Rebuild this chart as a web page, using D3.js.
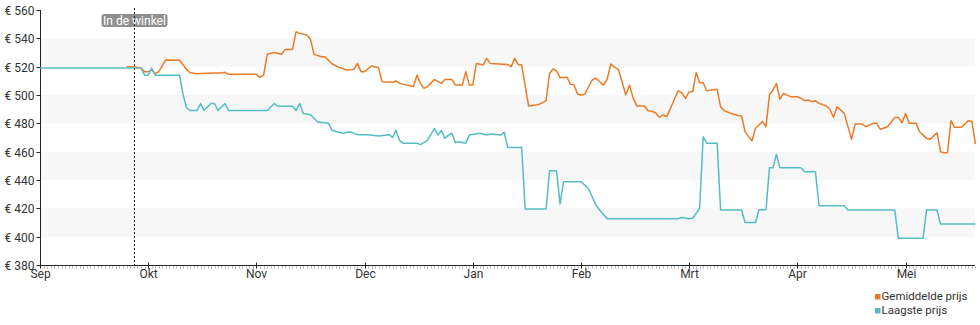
<!DOCTYPE html>
<html>
<head>
<meta charset="utf-8">
<script src="https://cdn.jsdelivr.net/npm/d3@7"></script>
<style>
  html, body { margin: 0; padding: 0; background: #fff; }
  svg { display: block; font-family: Roboto, "Noto Sans", Arial, sans-serif; }
</style>
</head>
<body>
<svg id="chart" width="980" height="325"></svg>
<script>
// ---------- data ----------
const monthLabels = ["Sep", "Okt", "Nov", "Dec", "Jan", "Feb", "Mrt", "Apr", "Mei"];
const yTicks = [380, 400, 420, 440, 460, 480, 500, 520, 540, 560];
const bandStarts = [400, 440, 480, 520];
const seriesNames = ["Gemiddelde prijs", "Laagste prijs"];
const storeDate = "2023-09-27";
const storeLabel = "In de winkel";

const gemDates = ["2023-09-25","2023-09-27","2023-09-29","2023-09-30","2023-10-01","2023-10-02","2023-10-03","2023-10-04","2023-10-06","2023-10-10","2023-10-12","2023-10-13","2023-10-15","2023-10-18","2023-10-20","2023-10-22","2023-10-23","2023-10-24","2023-11-01","2023-11-02","2023-11-03","2023-11-04","2023-11-05","2023-11-06","2023-11-08","2023-11-09","2023-11-11","2023-11-12","2023-11-13","2023-11-15","2023-11-16","2023-11-17","2023-11-19","2023-11-20","2023-11-22","2023-11-24","2023-11-26","2023-11-28","2023-11-29","2023-11-30","2023-12-01","2023-12-03","2023-12-05","2023-12-06","2023-12-09","2023-12-10","2023-12-11","2023-12-14","2023-12-15","2023-12-16","2023-12-17","2023-12-18","2023-12-19","2023-12-21","2023-12-23","2023-12-24","2023-12-26","2023-12-27","2023-12-29","2023-12-30","2023-12-31","2024-01-01","2024-01-02","2024-01-04","2024-01-05","2024-01-06","2024-01-11","2024-01-12","2024-01-13","2024-01-14","2024-01-15","2024-01-17","2024-01-19","2024-01-20","2024-01-21","2024-01-22","2024-01-23","2024-01-24","2024-01-25","2024-01-26","2024-01-28","2024-01-29","2024-01-30","2024-01-31","2024-02-01","2024-02-02","2024-02-04","2024-02-05","2024-02-07","2024-02-08","2024-02-09","2024-02-10","2024-02-11","2024-02-12","2024-02-13","2024-02-14","2024-02-15","2024-02-16","2024-02-18","2024-02-19","2024-02-20","2024-02-21","2024-02-22","2024-02-23","2024-02-24","2024-02-25","2024-02-27","2024-02-28","2024-02-29","2024-03-01","2024-03-02","2024-03-03","2024-03-04","2024-03-05","2024-03-06","2024-03-09","2024-03-10","2024-03-11","2024-03-13","2024-03-15","2024-03-16","2024-03-17","2024-03-18","2024-03-19","2024-03-20","2024-03-22","2024-03-23","2024-03-24","2024-03-25","2024-03-26","2024-03-27","2024-03-28","2024-03-30","2024-04-01","2024-04-02","2024-04-03","2024-04-04","2024-04-05","2024-04-06","2024-04-07","2024-04-09","2024-04-10","2024-04-11","2024-04-12","2024-04-14","2024-04-16","2024-04-17","2024-04-19","2024-04-20","2024-04-22","2024-04-23","2024-04-24","2024-04-26","2024-04-28","2024-04-29","2024-04-30","2024-05-01","2024-05-02","2024-05-04","2024-05-05","2024-05-07","2024-05-08","2024-05-10","2024-05-11","2024-05-12","2024-05-13","2024-05-14","2024-05-15","2024-05-17","2024-05-19","2024-05-20","2024-05-21"];
const gemValues = [520,520,519,516.5,516.5,517.6,515,516.5,524.7,524.5,518,515.7,515,515.3,515.5,515.5,516,514.6,514.6,512.5,514,528.7,529.4,530,528.7,532.2,532.2,544.7,543.5,542.3,539.3,528.7,527,527,521.9,519.5,517.6,518,522.3,516.5,516.5,520.5,519.3,509.4,509,509.9,508.2,506.6,506,514,508.2,504.7,505.9,511,508.2,511,511,507,507,516.5,507,507,522.3,521.2,525.9,522.3,521.6,520,525.9,521.6,521.2,492.2,492.9,493.5,494.6,496,515.3,518.4,517,512.2,512.5,507.5,507,500.7,500,500.5,510.6,511.8,507,511,521.9,519.5,518.1,509.4,500,507,497.6,492.2,492.2,488.9,488.5,487.5,484.2,485.9,484.7,490.6,503,501.5,497.6,502.3,502.3,515.8,508.7,508.7,503,504,491.7,488.9,487,485.5,485.2,474.1,470.6,467.7,476.5,481.2,477.6,500,503.5,508.2,497,501.2,498.8,498.8,497.6,496,496.5,495.3,496,494.1,492.2,489.9,484.2,491.7,487,468.7,479.5,479.5,477.6,480,480,475.8,477.6,484.2,484.2,480.4,487,480,480,474.1,469.4,468.7,473.4,460,459.3,459.3,481.9,477.2,477.2,481.9,481.5,465.4];

const laagDates = ["2023-09-01","2023-09-29","2023-09-30","2023-10-01","2023-10-02","2023-10-03","2023-10-10","2023-10-11","2023-10-12","2023-10-13","2023-10-15","2023-10-16","2023-10-17","2023-10-19","2023-10-20","2023-10-21","2023-10-23","2023-10-24","2023-11-04","2023-11-06","2023-11-07","2023-11-11","2023-11-12","2023-11-13","2023-11-14","2023-11-16","2023-11-18","2023-11-21","2023-11-22","2023-11-25","2023-11-27","2023-11-29","2023-12-02","2023-12-05","2023-12-08","2023-12-09","2023-12-10","2023-12-11","2023-12-12","2023-12-16","2023-12-17","2023-12-19","2023-12-21","2023-12-22","2023-12-23","2023-12-24","2023-12-25","2023-12-26","2023-12-27","2023-12-28","2023-12-30","2023-12-31","2024-01-03","2024-01-05","2024-01-06","2024-01-09","2024-01-10","2024-01-11","2024-01-15","2024-01-16","2024-01-22","2024-01-23","2024-01-25","2024-01-26","2024-01-27","2024-02-01","2024-02-03","2024-02-05","2024-02-06","2024-02-08","2024-02-27","2024-02-28","2024-03-01","2024-03-02","2024-03-04","2024-03-05","2024-03-06","2024-03-09","2024-03-10","2024-03-16","2024-03-17","2024-03-20","2024-03-21","2024-03-23","2024-03-24","2024-03-25","2024-03-26","2024-03-27","2024-04-02","2024-04-03","2024-04-06","2024-04-07","2024-04-14","2024-04-15","2024-04-28","2024-04-29","2024-05-06","2024-05-07","2024-05-10","2024-05-11","2024-05-21"];
const laagValues = [519,519,514,514,519,514,514,500,491,489,489,494,489,494,494,489,494,489,489,494,492,492,489,494,487,486,481,480,475,473,474,472,472,471,472,470,475,468,466,466,465,468,476.5,471.7,475,469.4,471.7,473,466.3,467,466,471.7,473,471.7,472.5,471.7,473.6,463,463,419.5,419.5,446.6,446.6,423,438.8,438.8,434,422.3,418.8,412.7,412.7,413.5,412.7,413,420,470.6,466,466,418.8,418.8,410,410,419,419,448.7,448.7,458,448.7,448.7,445.9,445.9,421.9,421.9,418.8,418.8,398.8,398.8,418.8,418.8,408.9,408.9];

const colors = ["#ec7a26", "#55bcc5"];

// ---------- layout ----------
const svg = d3.select("#chart");
const plotLeft = 40, plotRight = 975, plotTop = 10, plotBottom = 265;
const monthWidth = 108.2;
const parse = d3.timeParse("%Y-%m-%d");

const monthStarts = d3.timeMonth.range(new Date(2023, 8, 1), new Date(2024, 6, 2));
const x = d3.scaleTime()
  .domain(monthStarts)
  .range(monthStarts.map((d, i) => plotLeft + i * monthWidth));
const y = d3.scaleLinear().domain([380, 560]).range([plotBottom, plotTop]);

// bands
svg.append("g").selectAll("rect").data(bandStarts).join("rect")
  .attr("x", plotLeft).attr("width", plotRight - plotLeft)
  .attr("y", d => y(d + 20)).attr("height", d => y(d) - y(d + 20))
  .attr("fill", "#f7f7f7");

// y axis
const yAxis = svg.append("g").attr("transform", `translate(${plotLeft + 0.5},0)`);
yAxis.append("line").attr("y1", plotTop).attr("y2", plotBottom).attr("stroke", "#222");
const yt = yAxis.selectAll("g").data(yTicks).join("g")
  .attr("transform", d => `translate(0,${Math.round(y(d)) + 0.5})`);
yt.append("line").attr("x1", -4).attr("x2", 0).attr("stroke", "#222");
yt.append("text").attr("x", -6).attr("dy", "0.35em").attr("text-anchor", "end")
  .attr("font-size", 12).attr("fill", "#333").text(d => "€ " + d);

// x axis
const xAxis = svg.append("g").attr("transform", `translate(0,${plotBottom + 0.5})`);
const days = d3.timeDay.range(parse("2023-09-01"), parse("2024-05-22"));
xAxis.selectAll("line.minor").data(days).join("line").attr("class", "minor")
  .attr("x1", d => Math.round(x(d)) + 0.5).attr("x2", d => Math.round(x(d)) + 0.5)
  .attr("y1", 1).attr("y2", 3).attr("stroke", "#aaa");
xAxis.append("line").attr("x1", plotLeft).attr("x2", plotRight).attr("stroke", "#222");
const xt = xAxis.selectAll("g.tick").data(monthStarts.slice(0, 9)).join("g").attr("class", "tick")
  .attr("transform", d => `translate(${Math.round(x(d)) + 0.5},0)`);
xt.append("line").attr("y1", -3).attr("y2", 3).attr("stroke", "#222");
xt.append("text").attr("y", 4).attr("dy", "0.71em").attr("text-anchor", "middle")
  .attr("font-size", 12).attr("fill", "#333").text((d, i) => monthLabels[i]);

// lines
const line = d3.line().x(d => x(d[0])).y(d => y(d[1]));
const laag = laagDates.map((d, i) => [parse(d), laagValues[i]]);
const gem = gemDates.map((d, i) => [parse(d), gemValues[i]]);
svg.append("path").datum(gem).attr("d", line).attr("fill", "none")
  .attr("stroke", colors[0]).attr("stroke-width", 1.5).attr("stroke-linejoin", "round");
svg.append("path").datum(laag).attr("d", line).attr("fill", "none")
  .attr("stroke", colors[1]).attr("stroke-width", 1.5).attr("stroke-linejoin", "round");

// store annotation
const sx = Math.round(x(parse(storeDate))) + 0.5;
const lab = svg.append("g");
lab.append("rect").attr("x", sx - 33).attr("y", 14).attr("width", 66).attr("height", 13)
  .attr("rx", 3).attr("fill", "#8f8f8f");
lab.append("text").attr("x", sx).attr("y", 24.5).attr("text-anchor", "middle")
  .attr("font-size", 12).attr("fill", "#fff").text(storeLabel);
svg.append("line").attr("x1", sx).attr("x2", sx).attr("y1", 8).attr("y2", plotBottom)
  .attr("stroke", "#222").attr("stroke-dasharray", "2,2");

// legend
const lg = svg.append("g").attr("transform", "translate(875,0)");
const li = lg.selectAll("g").data(seriesNames).join("g")
  .attr("transform", (d, i) => `translate(0,${294 + i * 14})`);
li.append("rect").attr("y", 0).attr("width", 5.5).attr("height", 5.5).attr("fill", (d, i) => colors[i]);
li.append("text").attr("x", 6.5).attr("y", 6).attr("font-size", 11.5).attr("fill", "#333").text(d => d);
</script>
</body>
</html>
